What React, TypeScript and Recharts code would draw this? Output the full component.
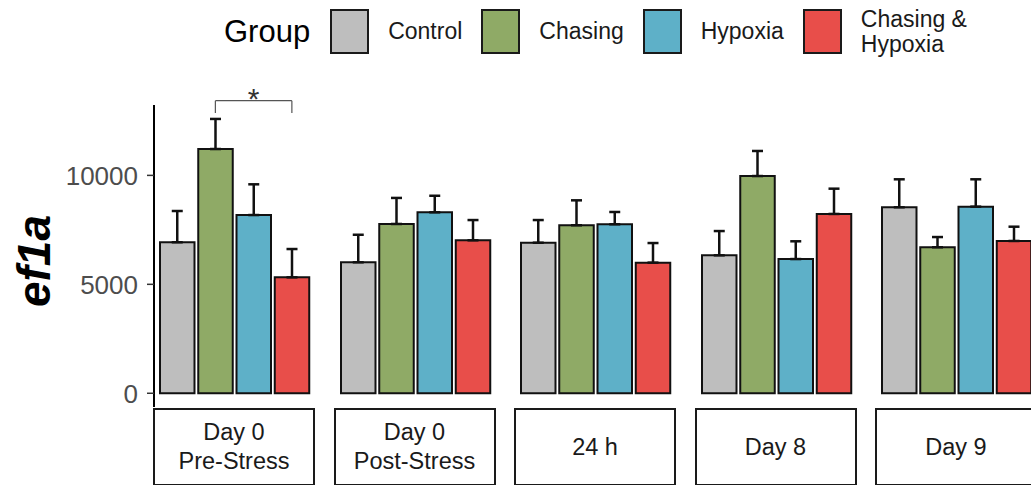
import { BarChart, Bar, XAxis, YAxis, Cell, ErrorBar, ReferenceLine } from 'recharts';

// facets (strip labels) and groups
const FACETS = ['Day 0\nPre-Stress', 'Day 0\nPost-Stress', '24 h', 'Day 8', 'Day 9'];
const GROUPS = ['Control', 'Chasing', 'Hypoxia', 'Chasing & Hypoxia'];
const LEGEND_LABELS = ['Control', 'Chasing', 'Hypoxia', 'Chasing &\nHypoxia'];
const GROUP_COLORS = ['#bebebe', '#8faa66', '#5eb0c8', '#e84e4a'];

// mean ef1a per facet, one array per group
const CONTROL = [6930, 6010, 6910, 6330, 8535];
const CHASING = [11210, 7770, 7710, 9970, 6700];
const HYPOXIA = [8180, 8305, 7755, 6160, 8565];
const CH_HY = [5320, 7020, 5995, 8230, 6990];

// upper error whisker (SE) per facet
const CONTROL_SE = [1435, 1265, 1040, 1115, 1285];
const CHASING_SE = [1380, 1195, 1145, 1150, 470];
const HYPOXIA_SE = [1410, 760, 565, 815, 1255];
const CH_HY_SE = [1300, 930, 900, 1160, 655];

const Y_TICKS = [0, 5000, 10000];
const Y_DOMAIN = [-630, 13230];

// significance bracket in first facet
const SIG_FROM = 'Chasing';
const SIG_TO = 'Chasing & Hypoxia';
const SIG_Y = 13430;
const SIG_TICK_Y = 12860;
const SIG_LABEL = '*';

const MEANS = [CONTROL, CHASING, HYPOXIA, CH_HY];
const SES = [CONTROL_SE, CHASING_SE, HYPOXIA_SE, CH_HY_SE];

const AXIS_W = 154;
const PANEL_W = 161;
const PANEL_X = [154, 334.5, 515, 695.5, 876];
const PLOT_TOP = 105;
const PLOT_BOTTOM = 407;
const BOTTOM_PAD = 16;
const INK = '#1a1a1a';

function YTitle() {
  return (
    <text
      x={50}
      y={261}
      transform="rotate(-90 50 261)"
      textAnchor="middle"
      fontSize={46}
      fontWeight="bold"
      fontStyle="italic"
      fill="#000"
    >
      ef1a
    </text>
  );
}

function Facet({ index }: { index: number }) {
  const first = index === 0;
  const rows = GROUPS.map((g, gi) => ({
    group: g,
    mean: MEANS[gi][index],
    err: [0, SES[gi][index]],
  }));
  const bracket = { stroke: '#555', strokeWidth: 1.2, ifOverflow: 'visible' as const };

  return (
    <BarChart
      width={first ? AXIS_W + PANEL_W : PANEL_W}
      height={PLOT_BOTTOM + BOTTOM_PAD}
      data={rows}
      margin={{ top: PLOT_TOP, right: 0, bottom: BOTTOM_PAD, left: 0 }}
    >
      <XAxis dataKey="group" hide padding={{ left: 4, right: 4 }} />
      <YAxis
        hide={!first}
        width={AXIS_W}
        domain={Y_DOMAIN}
        allowDataOverflow
        ticks={Y_TICKS}
        interval={0}
        tick={{ fill: '#4d4d4d', fontSize: 26 }}
        tickSize={7}
        tickMargin={9}
        tickLine={{ stroke: '#333', strokeWidth: 1.5 }}
        axisLine={{ stroke: '#000', strokeWidth: 2 }}
        label={first ? { content: () => <YTitle /> } : undefined}
      />
      <Bar dataKey="mean" barSize={34.5} stroke="#111" strokeWidth={2} isAnimationActive={false}>
        {rows.map((r, i) => (
          <Cell key={r.group} fill={GROUP_COLORS[i]} />
        ))}
        <ErrorBar dataKey="err" direction="y" width={5.5} stroke="#111" strokeWidth={2.5} />
      </Bar>
      {first && (
        <ReferenceLine
          segment={[{ x: SIG_FROM, y: SIG_Y }, { x: SIG_TO, y: SIG_Y }]}
          {...bracket}
          label={{ value: SIG_LABEL, position: 'top', offset: -8, fill: '#333', fontSize: 30 }}
        />
      )}
      {first && (
        <ReferenceLine segment={[{ x: SIG_FROM, y: SIG_Y }, { x: SIG_FROM, y: SIG_TICK_Y }]} {...bracket} />
      )}
      {first && (
        <ReferenceLine segment={[{ x: SIG_TO, y: SIG_Y }, { x: SIG_TO, y: SIG_TICK_Y }]} {...bracket} />
      )}
    </BarChart>
  );
}

export default function App() {
  return (
    <div
      style={{
        position: 'absolute',
        left: 0,
        top: 0,
        width: 1031,
        height: 485,
        overflow: 'hidden',
        background: '#fff',
        fontFamily: '"Liberation Sans", Arial, sans-serif',
        color: INK,
      }}
    >
      {/* legend */}
      <div style={{ position: 'absolute', left: 224, top: 9, height: 45, display: 'flex', alignItems: 'center' }}>
        <span style={{ fontSize: 31, marginRight: 20, color: '#000' }}>Group</span>
        {GROUPS.map((g, i) => (
          <div key={g} style={{ display: 'flex', alignItems: 'center', marginRight: 19 }}>
            <div style={{ width: 35, height: 41, background: GROUP_COLORS[i], border: `2px solid ${INK}` }} />
            <span style={{ marginLeft: 19, fontSize: 23, lineHeight: '25px', whiteSpace: 'pre' }}>
              {LEGEND_LABELS[i]}
            </span>
          </div>
        ))}
      </div>

      {/* facet panels */}
      {FACETS.map((f, i) => (
        <div key={f} style={{ position: 'absolute', top: 0, left: i === 0 ? 0 : PANEL_X[i] }}>
          <Facet index={i} />
        </div>
      ))}

      {/* strips below panels */}
      {FACETS.map((f, i) => (
        <div
          key={'s' + f}
          style={{
            position: 'absolute',
            left: PANEL_X[i] - 1,
            top: 408,
            width: 158,
            height: 74,
            border: `2.5px solid ${INK}`,
            background: '#fff',
            display: 'flex',
            alignItems: 'center',
            justifyContent: 'center',
            textAlign: 'center',
            fontSize: 23.5,
            lineHeight: '29px',
            whiteSpace: 'pre',
          }}
        >
          {f}
        </div>
      ))}
    </div>
  );
}
